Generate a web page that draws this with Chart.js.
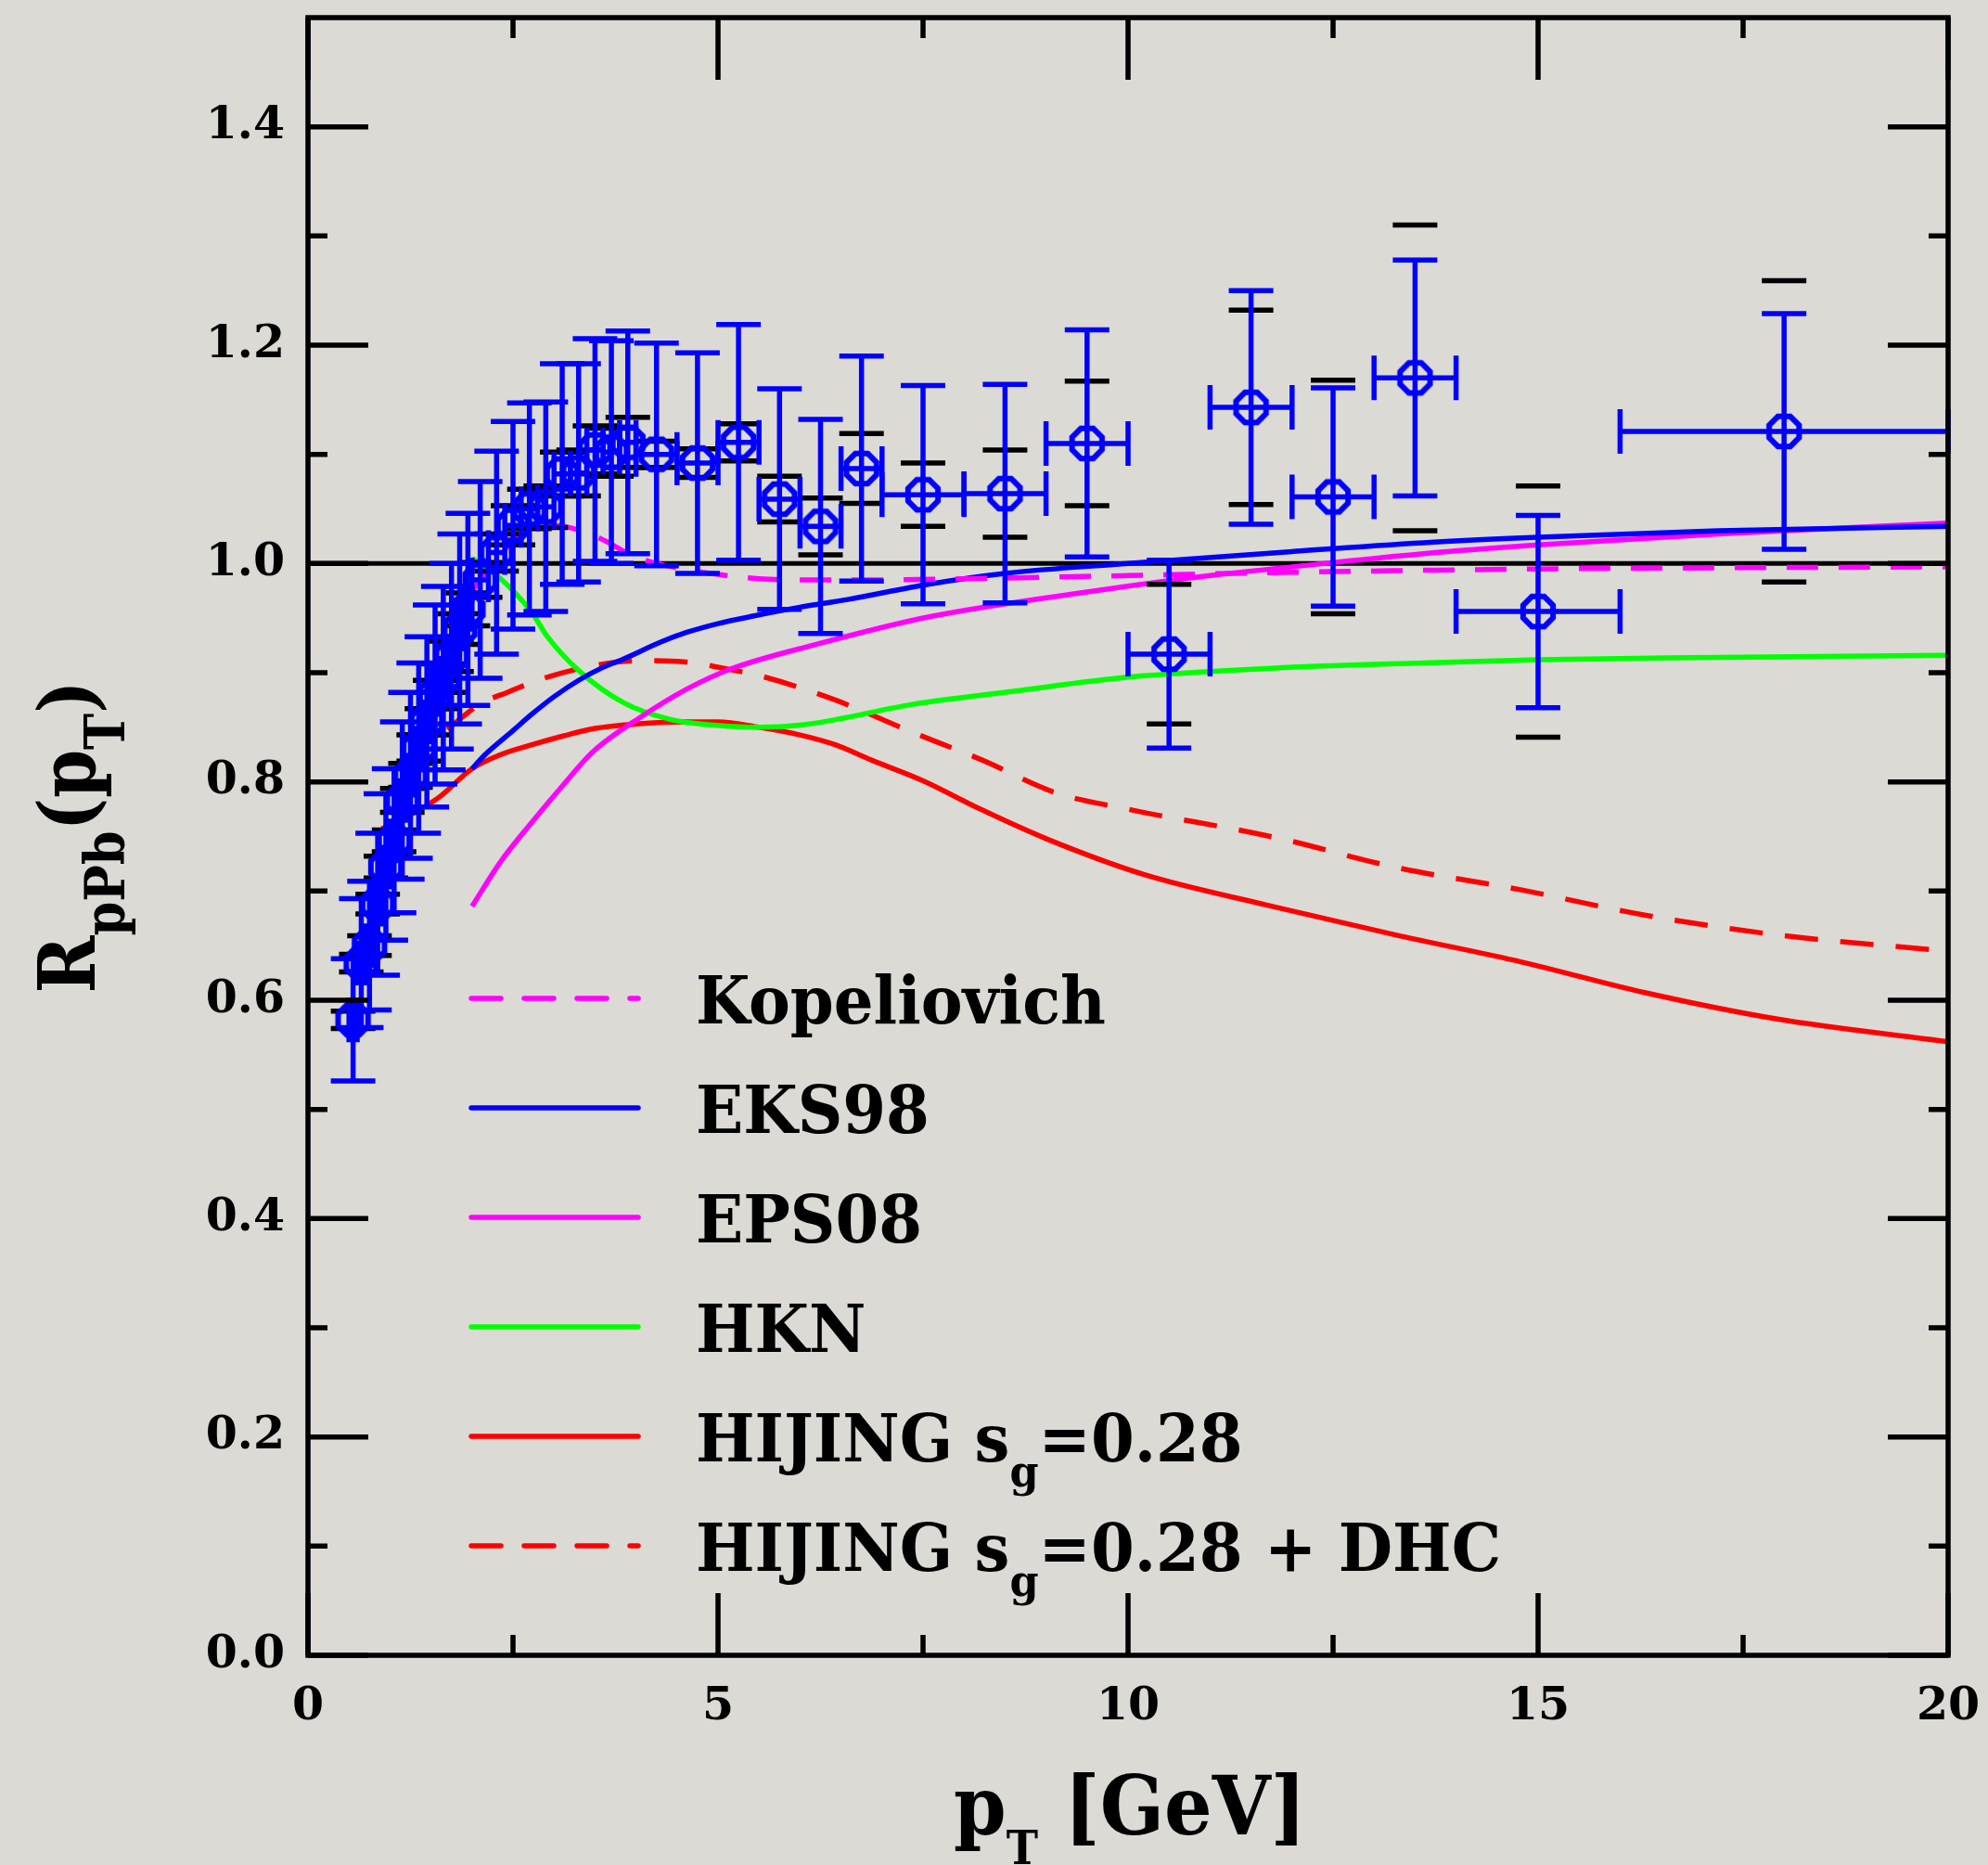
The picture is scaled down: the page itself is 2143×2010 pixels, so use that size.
<!DOCTYPE html>
<html>
<head>
<meta charset="utf-8">
<script src="https://cdn.jsdelivr.net/npm/chart.js@4.4.0/dist/chart.umd.min.js"></script>
<style>
  html, body { margin: 0; padding: 0; background: #dcdad4; }
  canvas { display: block; }
</style>
</head>
<body>
<canvas id="myChart" width="2143" height="2010"></canvas>
<script>
// measured points: pT bin centre, half width, R_pPb, stat (blue) and syst (black) errors
const ptX = [0.55, 0.65, 0.75, 0.85, 0.95, 1.05, 1.15, 1.25, 1.35, 1.45, 1.55, 1.65, 1.75, 1.85, 1.95,
	2.1, 2.3, 2.5, 2.7, 2.9, 3.1, 3.3, 3.5, 3.7, 3.9,
	4.25, 4.75, 5.25, 5.75, 6.25, 6.75, 7.5, 8.5, 9.5, 10.5, 11.5, 12.5, 13.5, 15, 18];
const ptXerr = [0.05, 0.05, 0.05, 0.05, 0.05, 0.05, 0.05, 0.05, 0.05, 0.05, 0.05, 0.05, 0.05, 0.05, 0.05,
	0.1, 0.1, 0.1, 0.1, 0.1, 0.1, 0.1, 0.1, 0.1, 0.1,
	0.25, 0.25, 0.25, 0.25, 0.25, 0.25, 0.5, 0.5, 0.5, 0.5, 0.5, 0.5, 0.5, 1, 2];
const ptY = [0.582, 0.634, 0.650, 0.688, 0.722, 0.746, 0.783, 0.806, 0.831, 0.855, 0.880, 0.895, 0.915, 0.940, 0.958,
	0.985, 1.010, 1.035, 1.050, 1.052, 1.082, 1.083, 1.104, 1.102, 1.111,
	1.100, 1.092, 1.111, 1.059, 1.034, 1.087, 1.063, 1.064, 1.110, 0.917, 1.143, 1.061, 1.170, 0.956, 1.121];
const ptStat = [0.056, 0.059, 0.059, 0.065, 0.067, 0.066, 0.072, 0.076, 0.078, 0.078, 0.082, 0.084, 0.085, 0.087, 0.088,
	0.090, 0.093, 0.095, 0.097, 0.096, 0.101, 0.100, 0.102, 0.102, 0.102,
	0.102, 0.101, 0.108, 0.101, 0.098, 0.103, 0.100, 0.100, 0.104, 0.086, 0.107, 0.100, 0.108, 0.088, 0.108];
const ptSys = [0.008, 0.008, 0.009, 0.009, 0.010, 0.010, 0.011, 0.011, 0.012, 0.012, 0.013, 0.013, 0.014, 0.014, 0.015,
	0.016, 0.017, 0.018, 0.018, 0.019, 0.020, 0.021, 0.022, 0.022, 0.023,
	0.012, 0.013, 0.017, 0.021, 0.026, 0.032, 0.029, 0.040, 0.057, 0.064, 0.089, 0.107, 0.140, 0.115, 0.138];

// model curves
const kopX = [2.0, 2.5, 3.0, 3.5, 4.0, 4.5, 5.0, 5.5, 6.0, 7.0, 8.0, 10.0, 12.0, 15.0, 20.0];
const kopY = [0.975, 1.020, 1.035, 1.025, 1.006, 0.996, 0.990, 0.986, 0.985, 0.985, 0.986, 0.989, 0.992, 0.995, 0.997];

const eksX = [2.0, 2.16, 2.5, 2.73, 3.0, 3.3, 3.6, 3.86, 4.3, 4.62, 5.0, 5.44, 6.0, 6.58, 7.56, 8.5, 10.0, 12.0, 13.6, 15.0, 17.2, 20.0];
const eksY = [0.812, 0.825, 0.847, 0.862, 0.878, 0.893, 0.905, 0.913, 0.928, 0.937, 0.945, 0.952, 0.960, 0.967, 0.981, 0.991, 1.000, 1.011, 1.019, 1.024, 1.030, 1.034];

const epsX = [2.0, 2.35, 2.73, 3.11, 3.48, 4.05, 4.62, 5.14, 6.2, 7.56, 9.6, 11.0, 12.0, 13.6, 15.0, 17.2, 20.0];
const epsY = [0.686, 0.727, 0.763, 0.797, 0.828, 0.859, 0.885, 0.903, 0.926, 0.951, 0.975, 0.989, 0.997, 1.009, 1.017, 1.027, 1.037];

const hknX = [2.0, 2.35, 2.73, 2.92, 3.3, 3.86, 4.43, 4.95, 5.52, 6.0, 6.43, 7.37, 8.6, 10.0, 12.0, 13.6, 15.0, 17.2, 20.0];
const hknY = [1.005, 0.986, 0.955, 0.933, 0.902, 0.872, 0.857, 0.852, 0.850, 0.852, 0.857, 0.871, 0.883, 0.896, 0.905, 0.909, 0.912, 0.914, 0.916];

const hijX = [0.9, 1.3, 1.6, 2.0, 2.35, 2.73, 3.11, 3.5, 4.0, 4.6, 5.0, 5.5, 6.0, 6.43, 6.87, 7.5, 8.2, 9.0, 10.2, 11.7, 13.25, 14.8, 16.3, 17.9, 20.0];
const hijY = [0.757, 0.772, 0.786, 0.812, 0.825, 0.834, 0.842, 0.849, 0.853, 0.855, 0.855, 0.850, 0.843, 0.834, 0.820, 0.801, 0.775, 0.748, 0.715, 0.687, 0.660, 0.635, 0.607, 0.583, 0.562];

const dhcX = [1.7, 2.09, 2.43, 2.88, 3.45, 4.01, 4.58, 5.14, 5.52, 6.43, 7.32, 8.22, 9.12, 10.0, 11.8, 13.25, 14.8, 16.3, 17.9, 20.0];
const dhcY = [0.848, 0.871, 0.882, 0.895, 0.906, 0.911, 0.910, 0.903, 0.897, 0.875, 0.847, 0.820, 0.790, 0.775, 0.749, 0.722, 0.701, 0.678, 0.660, 0.645];

const refX = [0, 20];
const refY = [1, 1];

const xTicks = [0, 5, 10, 15, 20];
const xMinor = [2.5, 7.5, 12.5, 17.5];
const yTicks = [0, 0.2, 0.4, 0.6, 0.8, 1.0, 1.2, 1.4];
const yMinor = [0.1, 0.3, 0.5, 0.7, 0.9, 1.1, 1.3];

const legendLabels = ['Kopeliovich', 'EKS98', 'EPS08', 'HKN', 'HIJING s_g=0.28', 'HIJING s_g=0.28 + DHC'];

const FONT = '"DejaVu Serif", "Liberation Serif", serif';

function pts(xs, ys) {
	return xs.map((x, i) => ({x: x, y: ys[i]}));
}

function curve(label, xs, ys, color, dash) {
	return {
		label: label,
		data: pts(xs, ys),
		borderColor: color,
		borderWidth: 5.5,
		borderDash: dash || [],
		pointRadius: 0,
		cubicInterpolationMode: 'monotone',
		fill: false
	};
}

// open octagon marker
function octagon() {
	const c = document.createElement('canvas');
	c.width = 50; c.height = 50;
	const g = c.getContext('2d');
	g.strokeStyle = '#0000ff';
	g.lineWidth = 6;
	g.beginPath();
	for (let k = 0; k < 8; k++) {
		const t = Math.PI / 8 + k * Math.PI / 4;
		const px = 25 + 17.5 * Math.cos(t), py = 25 + 17.5 * Math.sin(t);
		if (k === 0) g.moveTo(px, py); else g.lineTo(px, py);
	}
	g.closePath();
	g.stroke();
	return c;
}

function drawRich(ctx, parts, x, y, sx) {
	let cx = x;
	parts.forEach(p => {
		ctx.font = 'bold ' + p.size + 'px ' + FONT;
		ctx.save();
		ctx.translate(cx, y + (p.dy || 0));
		ctx.scale(sx, 1);
		ctx.fillText(p.t, 0, 0);
		ctx.restore();
		cx += ctx.measureText(p.t).width * sx;
	});
	return cx - x;
}

function richWidth(ctx, parts) {
	let w = 0;
	parts.forEach(p => {
		ctx.font = 'bold ' + p.size + 'px ' + FONT;
		w += ctx.measureText(p.t).width;
	});
	return w;
}

// split "s_g" into main / subscript parts
function labelParts(label, size, subSize, subDy) {
	const bits = label.split('_');
	const parts = [{t: bits[0], size: size}];
	for (let i = 1; i < bits.length; i++) {
		parts.push({t: bits[i][0], size: subSize, dy: subDy});
		if (bits[i].length > 1) parts.push({t: bits[i].slice(1), size: size});
	}
	return parts;
}

const paper = {
	id: 'paper',
	beforeDraw(chart) {
		const ctx = chart.ctx;
		ctx.save();
		ctx.fillStyle = '#dcdad4';
		ctx.fillRect(0, 0, chart.width, chart.height);
		ctx.restore();
	}
};

const errorBars = {
	id: 'errorBars',
	beforeDatasetDraw(chart, args) {
		if (args.index !== 0) return;
		const ctx = chart.ctx;
		const xs = chart.scales.x, ys = chart.scales.y;
		const cap = 24;
		ctx.save();
		ctx.lineCap = 'butt';
		// systematic caps
		ctx.strokeStyle = '#000';
		ctx.lineWidth = 5.5;
		ptX.forEach((x, i) => {
			const px = xs.getPixelForValue(x);
			[ptY[i] + ptSys[i], ptY[i] - ptSys[i]].forEach(v => {
				const py = ys.getPixelForValue(v);
				ctx.beginPath();
				ctx.moveTo(px - cap, py);
				ctx.lineTo(px + cap, py);
				ctx.stroke();
			});
		});
		// statistical bars
		ctx.strokeStyle = '#0000ff';
		ctx.lineWidth = 5.5;
		ptX.forEach((x, i) => {
			const px = xs.getPixelForValue(x);
			const py = ys.getPixelForValue(ptY[i]);
			const top = ys.getPixelForValue(ptY[i] + ptStat[i]);
			const bot = ys.getPixelForValue(ptY[i] - ptStat[i]);
			const lft = xs.getPixelForValue(x - ptXerr[i]);
			const rgt = xs.getPixelForValue(x + ptXerr[i]);
			ctx.beginPath();
			ctx.moveTo(px, top); ctx.lineTo(px, bot);
			ctx.moveTo(px - cap, top); ctx.lineTo(px + cap, top);
			ctx.moveTo(px - cap, bot); ctx.lineTo(px + cap, bot);
			ctx.moveTo(lft, py); ctx.lineTo(rgt, py);
			ctx.moveTo(lft, py - cap); ctx.lineTo(lft, py + cap);
			ctx.moveTo(rgt, py - cap); ctx.lineTo(rgt, py + cap);
			ctx.stroke();
		});
		ctx.restore();
	}
};

const frame = {
	id: 'frame',
	afterDraw(chart) {
		const ctx = chart.ctx;
		const a = chart.chartArea;
		const xs = chart.scales.x, ys = chart.scales.y;
		ctx.save();
		ctx.strokeStyle = '#000';
		ctx.lineWidth = 5.5;
		ctx.strokeRect(a.left, a.top, a.right - a.left, a.bottom - a.top);
		ctx.beginPath();
		yTicks.concat(yMinor).forEach(v => {
			const len = yMinor.includes(v) ? 21 : 65;
			const py = ys.getPixelForValue(v);
			ctx.moveTo(a.left, py); ctx.lineTo(a.left + len, py);
			ctx.moveTo(a.right, py); ctx.lineTo(a.right - len, py);
		});
		xTicks.concat(xMinor).forEach(v => {
			const len = xMinor.includes(v) ? 22 : 67;
			const px = xs.getPixelForValue(v);
			ctx.moveTo(px, a.bottom); ctx.lineTo(px, a.bottom - len);
			ctx.moveTo(px, a.top); ctx.lineTo(px, a.top + len);
		});
		ctx.stroke();

		// legend
		const rows = [1076, 1194, 1312, 1430, 1548, 1666];
		ctx.fillStyle = '#000';
		ctx.textBaseline = 'alphabetic';
		ctx.textAlign = 'left';
		const legSx = 442 / richWidth(ctx, labelParts(legendLabels[0], 71, 47, 27));
		legendLabels.forEach((lab, i) => {
			const ds = chart.data.datasets.find(d => d.label === lab);
			ctx.save();
			ctx.strokeStyle = ds.borderColor;
			ctx.lineWidth = 5.5;
			ctx.lineCap = 'round';
			ctx.setLineDash(ds.borderDash.length ? [32, 25] : []);
			ctx.beginPath();
			ctx.moveTo(508, rows[i]);
			ctx.lineTo(688, rows[i]);
			ctx.stroke();
			ctx.restore();
			drawRich(ctx, labelParts(lab, 71, 47, 27), 750, rows[i] + 27, legSx);
		});

		// x title: p_T [GeV]
		const xt = [{t: 'p', size: 88}, {t: 'T', size: 50, dy: 32}, {t: ' [GeV]', size: 88}];
		const xsx = 380 / richWidth(ctx, xt);
		drawRich(ctx, xt, 1218 - 190, 1977, xsx);

		// y title: R_pPb(p_T)
		const yt = [{t: 'R', size: 85}, {t: 'pPb', size: 60, dy: 32},
			{t: '(p', size: 85}, {t: 'T', size: 60, dy: 32}, {t: ')', size: 85}];
		const ysx = 337 / richWidth(ctx, yt);
		ctx.save();
		ctx.translate(102, 902);
		ctx.rotate(-Math.PI / 2);
		drawRich(ctx, yt, -337 / 2, 0, ysx);
		ctx.restore();
		ctx.restore();
	}
};

const ctx = document.getElementById('myChart').getContext('2d');
const myChart = new Chart(ctx, {
	type: 'line',
	data: {
		datasets: [
			{
				label: 'data',
				data: pts(ptX, ptY),
				showLine: false,
				pointStyle: octagon(),
				pointRadius: 18
			},
			curve('Kopeliovich', kopX, kopY, '#ff00ff', [34, 22]),
			curve('EKS98', eksX, eksY, '#0000ff'),
			curve('EPS08', epsX, epsY, '#ff00ff'),
			curve('HKN', hknX, hknY, '#00ff00'),
			curve('HIJING s_g=0.28', hijX, hijY, '#ff0000'),
			curve('HIJING s_g=0.28 + DHC', dhcX, dhcY, '#ff0000', [36, 24]),
			{
				label: 'ref',
				data: pts(refX, refY),
				borderColor: '#000',
				borderWidth: 5,
				pointRadius: 0
			}
		]
	},
	options: {
		responsive: false,
		devicePixelRatio: 1,
		animation: false,
		layout: {
			padding: {left: 0, right: 43, top: 14, bottom: 0}
		},
		plugins: {
			legend: {display: false},
			tooltip: {enabled: false}
		},
		scales: {
			x: {
				type: 'linear',
				min: 0,
				max: 20,
				grid: {display: false, drawTicks: false},
				border: {display: false},
				afterBuildTicks: s => { s.ticks = xTicks.map(v => ({value: v})); },
				afterFit: s => { s.height = 226; s.paddingLeft = 0; s.paddingRight = 0; },
				ticks: {
					padding: 27,
					color: '#000',
					font: {family: FONT, size: 49, weight: 'bold'},
					callback: v => String(v)
				}
			},
			y: {
				type: 'linear',
				min: 0,
				max: 1.5,
				grid: {display: false, drawTicks: false},
				border: {display: false},
				afterBuildTicks: s => { s.ticks = yTicks.map(v => ({value: v})); },
				afterFit: s => { s.width = 332; s.paddingTop = 0; s.paddingBottom = 0; },
				ticks: {
					padding: 25,
					color: '#000',
					font: {family: FONT, size: 49, weight: 'bold'},
					callback: v => v.toFixed(1)
				}
			}
		}
	},
	plugins: [paper, errorBars, frame]
});
</script>
</body>
</html>
